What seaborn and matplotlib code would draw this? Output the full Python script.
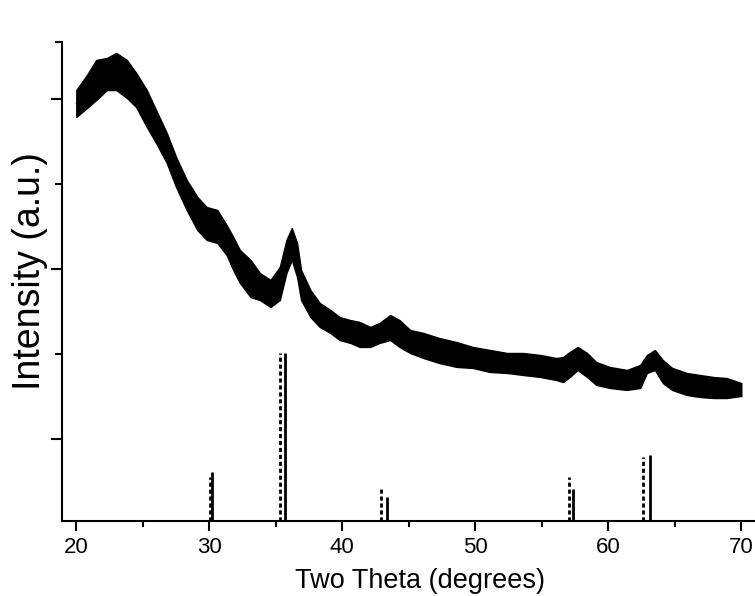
import numpy as np
import pandas as pd
import matplotlib
matplotlib.use("Agg")
import matplotlib.pyplot as plt
import seaborn as sns

# Measured XRD pattern: upper and lower edge of the noisy trace at each 2-theta
theta = [20.0, 20.8, 21.5, 22.3, 23.0, 23.8, 24.5, 25.3, 26.0, 26.8, 27.5, 28.3,
         29.1, 29.8, 30.6, 31.3, 31.8, 32.3, 33.1, 33.8, 34.6, 35.3, 35.8, 36.2,
         36.6, 36.9, 37.6, 38.3, 39.1, 39.8, 40.6, 41.3, 42.1, 42.8, 43.6, 44.3,
         45.1, 46.1, 47.3, 48.6, 49.8, 51.1, 52.4, 53.6, 54.9, 56.1, 56.6, 57.1,
         57.7, 58.4, 59.1, 60.1, 61.4, 62.4, 62.9, 63.5, 64.1, 64.8, 65.9, 66.9,
         67.9, 68.9, 70.0]
upper = [256.5, 265.5, 274.4, 275.6, 278.6, 274.4, 266.7, 256.5, 244.6, 231.0, 216.7, 203.0,
         192.9, 186.9, 185.1, 176.2, 169.0, 161.3, 155.4, 147.6, 143.5, 151.2, 167.3, 174.4,
         165.5, 149.4, 137.5, 129.8, 125.6, 121.4, 119.6, 118.5, 115.5, 117.9, 122.6, 119.6,
         113.7, 111.9, 108.9, 106.5, 103.6, 101.8, 100.0, 100.0, 98.8, 97.0, 97.6, 100.6,
         103.6, 100.0, 94.6, 91.7, 89.9, 92.9, 98.8, 101.8, 95.8, 91.1, 88.1, 86.9,
         85.7, 85.1, 82.1]
lower = [240.5, 245.8, 250.6, 256.5, 256.5, 251.8, 246.4, 234.5, 225.0, 213.1, 198.8, 185.1,
         173.2, 167.3, 165.5, 158.3, 149.4, 141.7, 133.3, 131.5, 127.4, 131.5, 147.6, 155.4,
         145.2, 131.5, 121.4, 115.5, 111.9, 107.7, 106.0, 103.6, 103.6, 106.0, 107.7, 103.6,
         100.0, 97.0, 94.0, 91.7, 91.1, 88.7, 88.1, 86.9, 85.7, 83.9, 82.7, 85.7,
         89.9, 85.7, 81.0, 79.2, 78.0, 79.2, 88.1, 89.9, 82.1, 78.0, 75.0, 73.8,
         73.2, 73.2, 74.4]

# Reference line patterns (relative intensity)
ref_a_pos = [30.07, 35.34, 42.94, 57.02, 62.60]
ref_a_int = [26, 100, 19, 26, 38]
ref_b_pos = [30.22, 35.66, 43.34, 57.37, 63.13]
ref_b_int = [29, 100, 14, 19, 39]

xticks = [20, 30, 40, 50, 60, 70]

sns.set_theme(style="ticks")
plt.rcParams["font.family"] = ["Liberation Sans", "DejaVu Sans"]

df = pd.DataFrame({
    "theta": theta + theta,
    "intensity": upper + lower,
})

W, H = 755, 596
fig = plt.figure(figsize=(W / 100, H / 100), dpi=100)
ax_l, ax_b, ax_t = 62.3, 521.0, 42.0
ax = fig.add_axes([ax_l / W, (H - ax_b) / H, (W - ax_l) / W, (ax_b - ax_t) / H])

# noisy trace drawn as a solid black band between its edges
sns.lineplot(data=df, x="theta", y="intensity", ax=ax, color="black",
             errorbar=("pi", 100), linewidth=1.0,
             err_kws={"alpha": 1.0, "linewidth": 1.0, "edgecolor": "black",
                      "facecolor": "black"})

# stick patterns
ax.vlines(ref_a_pos, 0, ref_a_int, colors="black", linewidth=2.0,
          linestyles=(0, (1.5, 1.0)))
ax.vlines(ref_b_pos, 0, ref_b_int, colors="black", linewidth=2.0)

px_per_deg = 13.3
x_left = 20 - (76.3 - ax_l) / px_per_deg
x_right = 20 + (W - 76.3) / px_per_deg
ax.set_xlim(x_left, x_right)
ax.set_ylim(0, 285.1)

ax.set_xticks(xticks)
ax.set_xticks([25, 35, 45, 55, 65], minor=True)
ax.set_xticklabels([str(t) for t in xticks], fontsize=16)
ax.set_yticks([48.8, 150.0, 251.2])
ax.set_yticks([99.4, 200.6, 285.1], minor=True)
ax.set_yticklabels([])

for s in ["top", "right"]:
    ax.spines[s].set_visible(False)
for s in ["left", "bottom"]:
    ax.spines[s].set_linewidth(1.5)
    ax.spines[s].set_color("black")

ax.tick_params(axis="x", which="major", length=7.5, width=1.5, color="black",
               labelcolor="black", pad=4)
ax.tick_params(axis="x", which="minor", length=4.5, width=1.5, color="black")
ax.tick_params(axis="y", which="major", length=8, width=1.5, color="black")
ax.tick_params(axis="y", which="minor", length=5, width=1.5, color="black")

ax.set_xlabel("Two Theta (degrees)", fontsize=19.5, color="black", va="center")
ax.xaxis.set_label_coords((420 - ax_l) / (W - ax_l), (ax_b - 581) / (ax_b - ax_t))
ax.set_ylabel("Intensity (a.u.)", fontsize=27, color="black", va="center", ha="center")
ax.yaxis.set_label_coords((30 - ax_l) / (W - ax_l), (ax_b - 271) / (ax_b - ax_t))

ax.grid(False)
ax.set_facecolor("white")
fig.patch.set_facecolor("white")

fig.savefig("out.png", dpi=100)
